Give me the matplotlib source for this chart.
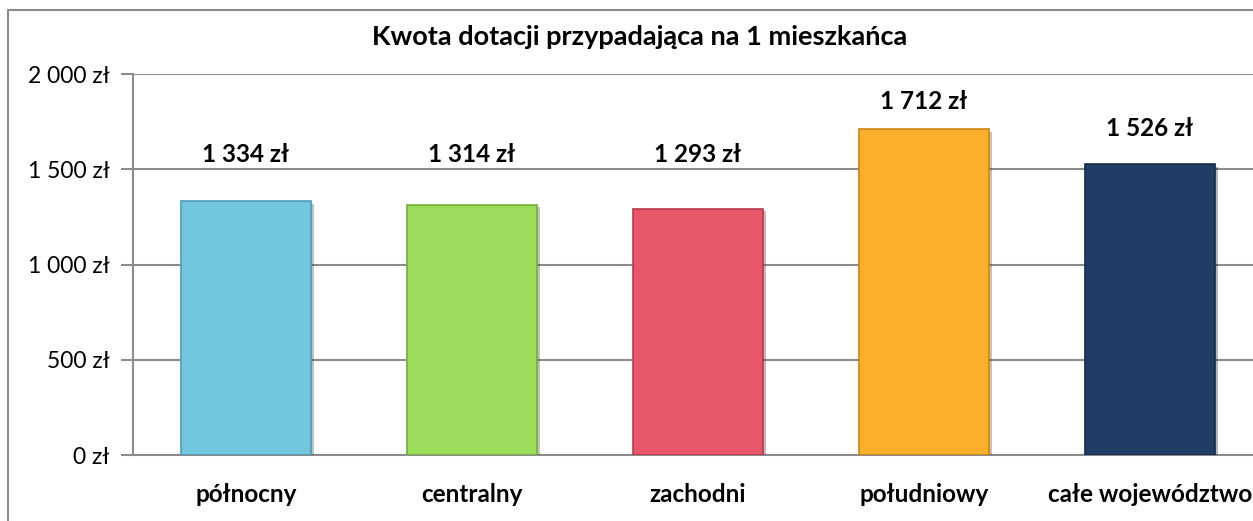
import matplotlib.pyplot as plt
import matplotlib.patheffects as pe
from matplotlib.lines import Line2D

categories = ['północny', 'centralny', 'zachodni', 'południowy', 'całe województwo']
values = [1334, 1314, 1293, 1712, 1526]
colors = ['#72C6DE', '#9BDB5A', '#E8566A', '#FCAF2C', '#1F3D65']
edges = ['#4E9DB3', '#73AE3A', '#B83A4C', '#C98514', '#142A48']
yticks = [0, 500, 1000, 1500, 2000]
# labels were placed by hand in the original: distance (px) above bar top
label_gap = [46, 50, 54, 27, 36]


def zl(v):
    s = f'{v:,}'.replace(',', ' ')
    return s + ' zł'


plt.rcParams['font.family'] = ['Lato', 'DejaVu Sans']

fig = plt.figure(figsize=(12.53, 5.21), dpi=100)
ax = fig.add_axes([133 / 1253, 1 - 455 / 521, 1130 / 1253, 381 / 521])

x = range(len(categories))
bars = ax.bar(x, values, width=0.575, color=colors, edgecolor=edges, linewidth=1.2, zorder=3)
for b in bars:
    b.set_path_effects([pe.SimplePatchShadow(offset=(2, -2), alpha=0.3), pe.Normal()])

for xi, v, g in zip(x, values, label_gap):
    ax.annotate(zl(v), (xi, v), xytext=(0, g * 0.72), textcoords='offset points',
                ha='center', va='center', fontsize=17.5, fontweight='bold')

ax.set_xlim(-0.5, len(categories) - 0.5)
ax.set_ylim(0, 2000)
ax.set_yticks(yticks)
ax.set_yticklabels([zl(t) for t in yticks], fontsize=16.5)
ax.set_xticks(list(x))
ax.set_xticklabels(categories, fontsize=17.5, fontweight='bold')
ax.tick_params(axis='x', length=0, pad=20)
ax.tick_params(axis='y', length=9, width=1.5, color='#8C8C8C', pad=8)
ax.grid(axis='y', color='#8C8C8C', linewidth=1.5, zorder=0)
for s in ['top', 'right']:
    ax.spines[s].set_visible(False)
for s in ['left', 'bottom']:
    ax.spines[s].set_color('#8C8C8C')
    ax.spines[s].set_linewidth(1.5)

fig.text(640 / 1253, 1 - 37 / 521, 'Kwota dotacji przypadająca na 1 mieszkańca',
         ha='center', va='center', fontsize=19.5, fontweight='bold')

# chart frame
fig.add_artist(Line2D([8 / 1253, 1.0], [1 - 10 / 521] * 2, color='#8C8C8C', lw=1.5))
fig.add_artist(Line2D([8 / 1253] * 2, [0, 1 - 10 / 521], color='#8C8C8C', lw=1.5))

fig.savefig('out.png', dpi=100)
